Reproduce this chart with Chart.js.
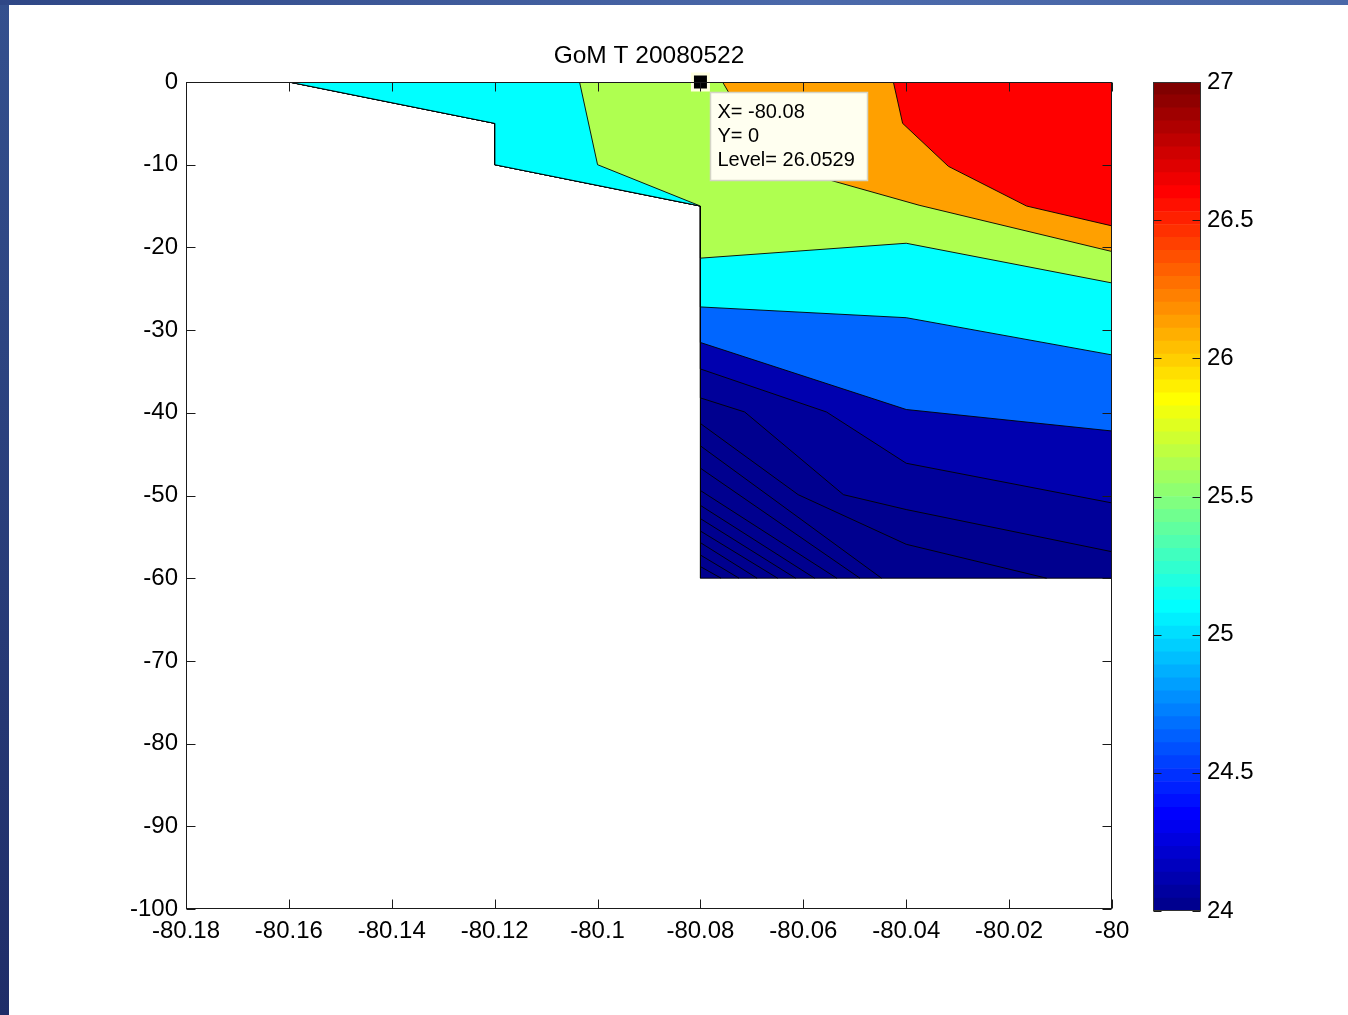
<!DOCTYPE html>
<html><head><meta charset="utf-8">
<script src="https://cdn.jsdelivr.net/npm/chart.js@4.4.1/dist/chart.umd.min.js"></script>
<style>
html,body{margin:0;padding:0;}
body{width:1348px;height:1015px;position:relative;overflow:hidden;background:linear-gradient(to bottom,#34508e,#1f2d68);}
#topbar{position:absolute;left:0;top:0;width:1348px;height:5px;background:linear-gradient(to right,#2f4786,#4b69aa 60%,#4a68a8);}
#paper{position:absolute;left:9px;top:5px;right:0;bottom:0;background:#fff;}
canvas{position:absolute;}
#main{left:0;top:0;}
#cbar{left:1100px;top:0;}
</style></head>
<body>
<div id="topbar"></div><div id="paper"></div>
<canvas id="main" width="1348" height="1015"></canvas>
<canvas id="cbar" width="248" height="1015"></canvas>
<script>
// ---------- data ----------
const chartTitle = 'GoM T 20080522';
const xTicks = [-80.18, -80.16, -80.14, -80.12, -80.1, -80.08, -80.06, -80.04, -80.02, -80];
const xTickLabels = ['-80.18', '-80.16', '-80.14', '-80.12', '-80.1', '-80.08', '-80.06', '-80.04', '-80.02', '-80'];
const yTicks = [0, -10, -20, -30, -40, -50, -60, -70, -80, -90, -100];
const yTickLabels = ['0', '-10', '-20', '-30', '-40', '-50', '-60', '-70', '-80', '-90', '-100'];
const cbTicks = [24, 24.5, 25, 25.5, 26, 26.5, 27];
const cbTickLabels = ['24', '24.5', '25', '25.5', '26', '26.5', '27'];

// data domain edges (longitude, depth)
const shoreline = [[-80.16, 0], [-80.12, -5], [-80.12, -10], [-80.08, -15]];
const seabed = [[-80.08, -60], [-80, -60]];
const surfaceEast = [-80, 0];

// contour lines (longitude, depth)
const contourRed = [[-80.0425, 0], [-80.0407, -5], [-80.0318, -10.2], [-80.0166, -15], [-80, -17.4]];
const contourOrange = [[-80.0757, 0], [-80.071, -5], [-80.064, -10], [-80.0552, -11.8], [-80.0375, -14.9], [-80, -20.5]];
const contourGreenShore = [[-80.1035, 0], [-80.1, -10], [-80.08, -15]];
const contourGreen = [[-80.08, -21.3], [-80.04, -19.5], [-80, -24.3]];
const contourCyan = [[-80.08, -27.2], [-80.04, -28.5], [-80, -33]];
const contourBlue = [[-80.08, -31.5], [-80.04, -39.6], [-80, -42.2]];
const contourDeep1 = [[-80.08, -34.7], [-80.0555, -39.9], [-80.04, -46.1], [-80, -50.9]];
const contourDeep2 = [[-80.08, -38.2], [-80.0714, -39.9], [-80.0522, -49.9], [-80.04, -51.7], [-80, -56.8]];
const contourDeep3 = [[-80.08, -41.3], [-80.061, -49.9], [-80.04, -55.9], [-80.0127, -60]];
const contourDeep4 = [[-80.08, -44.0], [-80.0448, -60]];
const contourDeep5 = [[-80.08, -46.7], [-80.049, -60]];
const contourDeep6 = [[-80.08, -49.4], [-80.0535, -60]];
const contourDeep7 = [[-80.08, -51.2], [-80.0578, -60]];
const contourDeep8 = [[-80.08, -52.8], [-80.0615, -60]];
const contourDeep9 = [[-80.08, -54.3], [-80.065, -60]];
const contourDeep10 = [[-80.08, -55.7], [-80.069, -60]];
const contourDeep11 = [[-80.08, -57.2], [-80.0725, -60]];
const contourDeep12 = [[-80.08, -58.6], [-80.076, -60]];

// data cursor
const cursorX = -80.08, cursorY = 0, cursorLevel = 26.0529;

// colour limits of the colour bar
const cbMin = 24, cbMax = 27, cbCount = 64;

// ---------- helpers ----------
function jet(m) {
  const n = Math.ceil(m / 4);
  const u = [];
  for (let i = 1; i <= n; i++) u.push(i / n);
  for (let i = 1; i < n; i++) u.push(1);
  for (let i = n; i >= 1; i--) u.push(i / n);
  const g0 = Math.ceil(n / 2) - (m % 4 === 1 ? 1 : 0);
  const J = Array.from({length: m}, () => [0, 0, 0]);
  u.forEach((v, k) => {
    const g = g0 + k + 1, r = g + n, b = g - n;
    if (g >= 1 && g <= m) J[g - 1][1] = v;
    if (r >= 1 && r <= m) J[r - 1][0] = v;
    if (b >= 1 && b <= m) J[b - 1][2] = v;
  });
  return J.map(c => 'rgb(' + c.map(v => Math.round(v * 255)).join(',') + ')');
}
const toPts = arr => arr.map(p => ({x: p[0], y: p[1]}));
function closed(arr) { return toPts(arr.concat([arr[0]])); }
function upperRegion(line) {
  // region above a contour that starts on the western wall of the deep part
  return line.concat([surfaceEast]).concat(shoreline.slice());
}

const FONT = '"Liberation Sans", Arial, Helvetica, sans-serif';
Chart.defaults.font.family = FONT;
Chart.defaults.color = '#000';

const layers = [
  {pts: shoreline.concat(seabed, [surfaceEast]), color: '#00008f'},
  {pts: upperRegion(contourDeep2), color: '#00009a'},
  {pts: upperRegion(contourDeep1), color: '#0000af'},
  {pts: upperRegion(contourBlue), color: '#0066ff'},
  {pts: upperRegion(contourCyan), color: '#00ffff'},
  {pts: contourGreenShore.concat(contourGreen, [surfaceEast]), color: '#afff50'},
  {pts: contourOrange.concat([surfaceEast]), color: '#ffa000'},
  {pts: contourRed.concat([surfaceEast]), color: '#ff0000'}
];
const deepLines = [contourDeep3, contourDeep4, contourDeep5, contourDeep6, contourDeep7,
  contourDeep8, contourDeep9, contourDeep10, contourDeep11, contourDeep12];

const datasets = [];
layers.forEach((L, i) => {
  datasets.push({
    data: closed(L.pts), showLine: true, fill: 'shape',
    backgroundColor: L.color, borderColor: '#000', borderWidth: 0.9,
    pointRadius: 0, pointHoverRadius: 0, tension: 0, order: 100 - i
  });
});
deepLines.forEach(l => {
  datasets.push({
    data: toPts(l), showLine: true, fill: false, borderColor: '#000', borderWidth: 0.9,
    pointRadius: 0, pointHoverRadius: 0, tension: 0, order: 10
  });
});
datasets.push({
  data: [{x: cursorX, y: cursorY}], showLine: false, pointStyle: 'rect',
  pointRadius: 11.3, pointHoverRadius: 11.3, backgroundColor: '#000', borderColor: '#ffffe0',
  borderWidth: 3, clip: false, order: 0
});

const axesPlugin = {
  id: 'matlabAxes',
  afterDatasetsDraw(chart) {
    const {ctx, chartArea: a, scales: {x, y}} = chart;
    ctx.save();
    ctx.strokeStyle = '#1a1a1a';
    ctx.lineWidth = 1;
    const L = Math.round(a.left) + 0.5, R = Math.round(a.right) - 0.5;
    const T = Math.round(a.top) + 0.5, B = Math.round(a.bottom) - 0.5;
    ctx.beginPath();
    xTicks.forEach(v => {
      const px = Math.round(x.getPixelForValue(v)) + 0.5;
      ctx.moveTo(px, B); ctx.lineTo(px, B - 9);
      ctx.moveTo(px, T); ctx.lineTo(px, T + 9);
    });
    yTicks.forEach(v => {
      const py = Math.round(y.getPixelForValue(v)) + 0.5;
      ctx.moveTo(L, py); ctx.lineTo(L + 9, py);
      ctx.moveTo(R, py); ctx.lineTo(R - 9, py);
    });
    ctx.stroke();
    ctx.strokeRect(L, T, R - L, B - T);
    ctx.restore();
  },
  afterDraw(chart) {
    const {ctx, scales: {x, y}} = chart;
    const px = x.getPixelForValue(cursorX), py = y.getPixelForValue(cursorY);
    const bx = Math.round(px + 9.5) + 0.5, by = Math.round(py + 9.5) + 0.5, bw = 157, bh = 88;
    ctx.save();
    ctx.fillStyle = '#fffff0';
    ctx.fillRect(bx, by, bw, bh);
    ctx.strokeStyle = '#d4d4c6';
    ctx.lineWidth = 1.5;
    ctx.strokeRect(bx, by, bw, bh);
    ctx.fillStyle = '#000';
    ctx.font = '20px ' + FONT;
    ctx.textBaseline = 'middle';
    ctx.textAlign = 'left';
    const lines = ['X= ' + cursorX, 'Y= ' + cursorY, 'Level= ' + cursorLevel];
    lines.forEach((t, i) => ctx.fillText(t, bx + 7, by + 20 + i * 23.8));
    ctx.restore();
  }
};

new Chart(document.getElementById('main'), {
  type: 'scatter',
  data: {datasets},
  options: {
    responsive: false, animation: false, devicePixelRatio: 1,
    events: [],
    layout: {padding: {left: 0, top: 42, right: 236, bottom: 56}},
    plugins: {
      legend: {display: false}, tooltip: {enabled: false},
      title: {display: true, text: chartTitle, fullSize: false, color: '#000',
        font: {size: 24.5, weight: 'normal'}, padding: {top: 0, bottom: 10.6}}
    },
    scales: {
      x: {
        type: 'linear', min: -80.18, max: -80, position: 'bottom',
        afterFit: s => { s.height = 50; },
        afterBuildTicks: s => { s.ticks = xTicks.map(v => ({value: v})); },
        ticks: {callback: (v, i) => xTickLabels[i], font: {size: 24}, color: '#000', padding: 8,
          maxRotation: 0, autoSkip: false},
        grid: {display: false, drawTicks: false}, border: {display: false}
      },
      y: {
        type: 'linear', min: -100, max: 0,
        afterFit: s => { s.width = 186; },
        afterBuildTicks: s => { s.ticks = yTicks.map(v => ({value: v})); },
        ticks: {callback: (v, i) => yTickLabels[i], font: {size: 24}, color: '#000', padding: 8, autoSkip: false},
        grid: {display: false, drawTicks: false}, border: {display: false}
      }
    }
  },
  plugins: [axesPlugin]
});

// ---------- colour bar ----------
const cbColors = jet(cbCount);
const cbStep = (cbMax - cbMin) / cbCount;
const cbDatasets = cbColors.map((c, i) => ({
  data: [[cbMin + i * cbStep, cbMin + (i + 1) * cbStep]],
  backgroundColor: c, borderWidth: 0, grouped: false, barPercentage: 1, categoryPercentage: 1
}));
const cbPlugin = {
  id: 'cbFrame',
  afterDatasetsDraw(chart) {
    const {ctx, chartArea: a, scales: {y}} = chart;
    ctx.save();
    ctx.strokeStyle = '#1a1a1a';
    ctx.lineWidth = 1;
    const L = Math.round(a.left) + 0.5, R = Math.round(a.right) - 0.5;
    const T = Math.round(a.top) + 0.5, B = Math.round(a.bottom) - 0.5;
    ctx.beginPath();
    cbTicks.forEach(v => {
      const py = Math.round(y.getPixelForValue(v)) + 0.5;
      ctx.moveTo(L, py); ctx.lineTo(L + 8, py);
      ctx.moveTo(R, py); ctx.lineTo(R - 8, py);
    });
    ctx.stroke();
    ctx.strokeStyle = '#333';
    ctx.strokeRect(L, T, R - L, B - T);
    ctx.restore();
  }
};
new Chart(document.getElementById('cbar'), {
  type: 'bar',
  data: {labels: ['T'], datasets: cbDatasets},
  options: {
    responsive: false, animation: false, devicePixelRatio: 1, events: [],
    layout: {padding: {left: 53, top: 82, right: 0, bottom: 104}},
    plugins: {legend: {display: false}, tooltip: {enabled: false}},
    scales: {
      x: {display: false},
      y: {
        position: 'right', min: cbMin, max: cbMax,
        afterFit: s => { s.width = 147; },
        afterBuildTicks: s => { s.ticks = cbTicks.map(v => ({value: v})); },
        ticks: {callback: (v, i) => cbTickLabels[i], font: {size: 24}, color: '#000', padding: 6, autoSkip: false},
        grid: {display: false, drawTicks: false}, border: {display: false}
      }
    }
  },
  plugins: [cbPlugin]
});
</script>
</body></html>
